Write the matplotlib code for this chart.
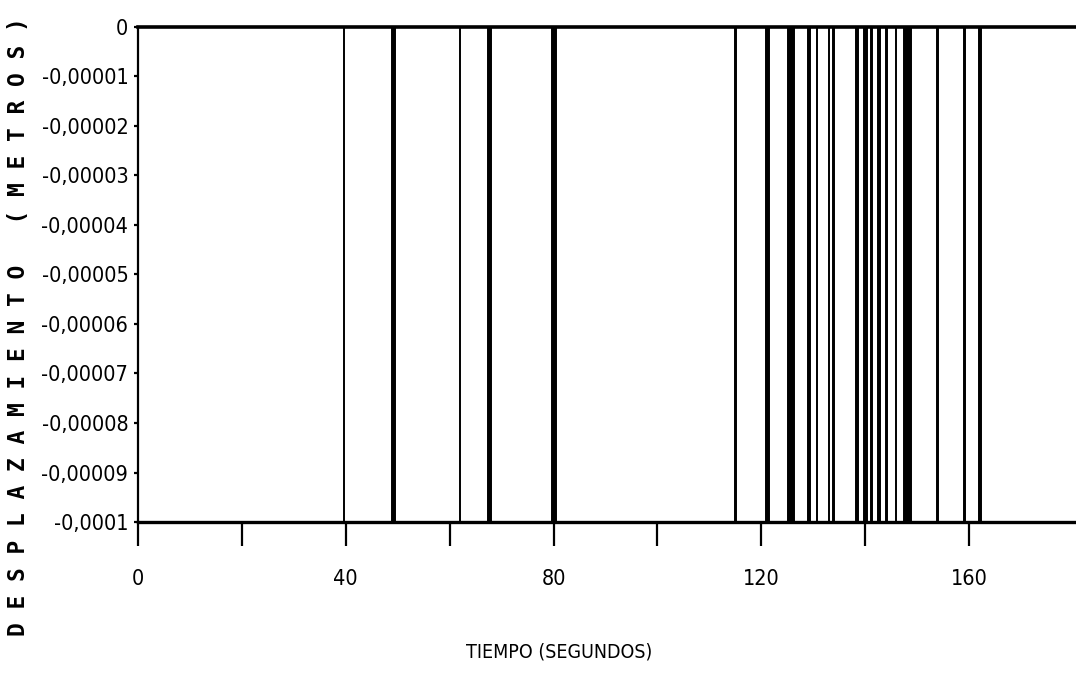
import matplotlib
matplotlib.use('Agg')
import matplotlib.pyplot as plt
from matplotlib import font_manager
from matplotlib.font_manager import FontProperties
from matplotlib.ticker import FixedLocator, FixedFormatter

# Pulse record: time of each displacement spike (s) and how long it lasts (s)
spike_times = [39.56, 49.19, 61.90, 67.67, 80.09, 115.13, 121.20, 125.72,
               129.28, 130.73, 133.13, 133.90, 138.52, 140.07, 141.22, 142.66,
               144.11, 145.94, 148.25, 153.93, 159.13, 162.20]
spike_dur = [0.0, 0.58, 0.0, 0.39, 0.58, 0.19, 0.58, 1.16,
             0.39, 0.0, 0.0, 0.19, 0.39, 0.39, 0.19, 0.39,
             0.19, 0.0, 1.35, 0.19, 0.19, 0.39]
spike_depth = -0.0001  # m
baseline = 0.0

xticks_major = [0, 40, 80, 120, 160]
xticks_minor = [20, 60, 100, 140]
yticks = [0, -0.00001, -0.00002, -0.00003, -0.00004, -0.00005,
          -0.00006, -0.00007, -0.00008, -0.00009, -0.0001]
ytick_labels = ['0', '-0,00001', '-0,00002', '-0,00003', '-0,00004', '-0,00005',
                '-0,00006', '-0,00007', '-0,00008', '-0,00009', '-0,0001']


def narrow_font():
    # look for any condensed / narrow face, regular weight preferred
    cands = []
    for f in font_manager.fontManager.ttflist:
        st = f.stretch
        cond = ('Condensed' in f.name or 'Narrow' in f.name or
                (isinstance(st, str) and 'condensed' in st) or
                (isinstance(st, (int, float)) and st < 100))
        if cond and f.style == 'normal':
            w = f.weight if isinstance(f.weight, int) else 400
            cands.append((abs(w - 400), f.fname))
    if cands:
        cands.sort()
        return cands[0][1]
    return None


path = narrow_font()
if path:
    tick_fp = FontProperties(fname=path, size=15.5)
    lab_fp = FontProperties(fname=path, size=14)
else:
    tick_fp = FontProperties(family='DejaVu Sans', size=12.5)
    lab_fp = FontProperties(family='DejaVu Sans', size=11.5)

plt.rcParams['axes.unicode_minus'] = False

fig = plt.figure(figsize=(10.76, 6.74), dpi=100)
ax = fig.add_axes([0.1283, 0.2255, 0.8717, 0.7345])

ax.axhline(baseline, color='black', lw=2.6, clip_on=False, zorder=3)
ax.bar(spike_times, spike_depth, bottom=baseline, width=spike_dur,
       color='black', edgecolor='black', linewidth=1.4, zorder=2)

ax.set_xlim(0, 180.6)
ax.set_ylim(-0.0001, 0)

for s in ['top', 'right']:
    ax.spines[s].set_visible(False)
ax.spines['bottom'].set_linewidth(2.4)
ax.spines['left'].set_linewidth(1.6)

ax.xaxis.set_major_locator(FixedLocator(xticks_major))
ax.xaxis.set_minor_locator(FixedLocator(xticks_minor))
ax.yaxis.set_major_locator(FixedLocator(yticks))
ax.yaxis.set_major_formatter(FixedFormatter(ytick_labels))

ax.tick_params(axis='x', which='both', direction='out', length=17, width=1.6, pad=17)
ax.tick_params(axis='y', direction='out', length=3, width=1.6, pad=4)

for lab in ax.get_xticklabels() + ax.get_yticklabels():
    lab.set_fontproperties(tick_fp)

fig.text(0.52, 0.032, 'TIEMPO (SEGUNDOS)', ha='center', va='center',
         fontproperties=lab_fp)
fig.text(0.017, 0.515, 'D E S P L A Z A M I E N T O   ( M E T R O S )',
         rotation=90, ha='center', va='center', fontsize=16.5,
         family='DejaVu Sans Mono', fontweight='bold')

fig.savefig('out.png', dpi=100)
